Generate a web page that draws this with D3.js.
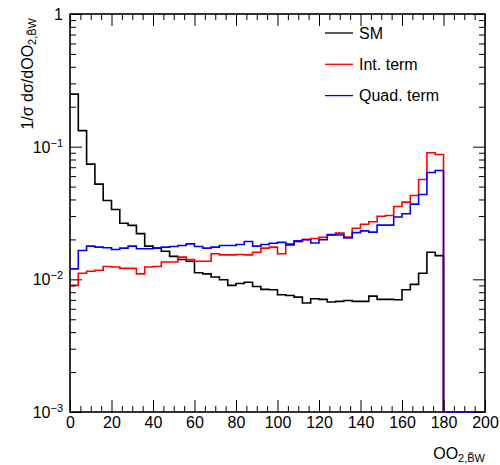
<!DOCTYPE html>
<html>
<head>
<meta charset="utf-8">
<script src="https://cdn.jsdelivr.net/npm/d3@7/dist/d3.min.js"></script>
<style>
    body { margin: 0; background: #fff; }
    svg text { font-family: "Liberation Sans", Arial, Helvetica, sans-serif; fill: #000; }
</style>
</head>
<body>
<div id="chart"></div>
<script>
// Normalised distributions, bins of width 4 from 0 to 200 (empty above 180)
var binWidth = 4;
var smValues = [
    0.249, 0.132, 0.0738, 0.0522, 0.0393, 0.0336, 0.0265, 0.0255, 0.0221, 0.0178,
    0.0172, 0.0163, 0.0149, 0.0141, 0.0137, 0.0112, 0.0110, 0.0104, 0.00993, 0.0090,
    0.0093, 0.0095, 0.00884, 0.0084, 0.00835, 0.00766, 0.00756, 0.00734, 0.00664, 0.00714,
    0.00706, 0.00674, 0.00682, 0.00693, 0.00682, 0.00682, 0.00747, 0.00706, 0.00706, 0.00702,
    0.00835, 0.00916, 0.0111, 0.0160, 0.0151,
    0, 0, 0, 0, 0
];
var intValues = [
    0.0090, 0.0111, 0.0115, 0.0117, 0.0125, 0.0124, 0.0121, 0.0121, 0.0110, 0.0124,
    0.0125, 0.0135, 0.0135, 0.0147, 0.0141, 0.0137, 0.0137, 0.0156, 0.0153, 0.0153,
    0.0154, 0.0153, 0.0160, 0.0172, 0.0175, 0.0156, 0.0185, 0.0192, 0.0200, 0.0203,
    0.0207, 0.0215, 0.0223, 0.0208, 0.0243, 0.0260, 0.0272, 0.0299, 0.0303, 0.0354,
    0.0382, 0.0429, 0.0566, 0.0900, 0.0873,
    0, 0, 0, 0, 0
];
var quadValues = [
    0.0120, 0.0165, 0.0178, 0.0175, 0.0173, 0.0168, 0.0172, 0.0178, 0.0170, 0.0170,
    0.0172, 0.0175, 0.0177, 0.0180, 0.0185, 0.0177, 0.0172, 0.0175, 0.0180, 0.0180,
    0.0183, 0.0193, 0.0178, 0.0183, 0.0187, 0.0190, 0.0182, 0.0195, 0.0199, 0.0188,
    0.0199, 0.0218, 0.0216, 0.0205, 0.0225, 0.0232, 0.0227, 0.0256, 0.0256, 0.0295,
    0.0312, 0.0369, 0.0436, 0.0639, 0.0662,
    0, 0, 0, 0, 0
];
var seriesNames = ["SM", "Int. term", "Quad. term"];
var seriesColors = ["#000000", "#ff0000", "#0000ff"];
var xMajorTicks = [0, 20, 40, 60, 80, 100, 120, 140, 160, 180, 200];
var yMajorTicks = [1e-3, 1e-2, 1e-1, 1];
var yTickExponents = ["\u22123", "\u22122", "\u22121", null];

var width = 500, height = 465;
var margin = {left: 70, top: 14, right: 15, bottom: 53};
var innerW = width - margin.left - margin.right;
var innerH = height - margin.top - margin.bottom;

var svg = d3.select("#chart").append("svg")
    .attr("width", width)
    .attr("height", height);

var g = svg.append("g")
    .attr("transform", "translate(" + margin.left + "," + margin.top + ")");

var x = d3.scaleLinear().domain([0, 200]).range([0, innerW]);
var y = d3.scaleLog().domain([1e-3, 1]).range([innerH, 0]);

//Frame goes first, the histograms are painted over it
g.append("rect")
    .attr("width", innerW)
    .attr("height", innerH)
    .attr("fill", "none")
    .attr("stroke", "#000")
    .attr("stroke-width", 1.6);

//ROOT draws empty bins on the frame floor in log scale
function yPos(v) {
    return v > 1e-3 ? y(v) : y(1e-3);
}

function stepPath(values) {
    var p = d3.path();
    p.moveTo(x(0), yPos(values[0]));
    values.forEach(function(v, i) {
        p.lineTo(x(i * binWidth), yPos(v));
        p.lineTo(x((i + 1) * binWidth), yPos(v));
    });
    return p.toString();
}

[smValues, intValues, quadValues].forEach(function(vals, i) {
    g.append("path")
        .attr("d", stepPath(vals))
        .attr("fill", "none")
        .attr("stroke", seriesColors[i])
        .attr("stroke-width", 1.6)
        .attr("stroke-linejoin", "miter");
});

//Minor tick values
var xMinor = d3.range(0, 201, 5).filter(function(v) { return v % 20 !== 0; });
var yMinor = [];
[1e-3, 1e-2, 1e-1].forEach(function(dec) {
    for (var k = 2; k <= 9; k++) yMinor.push(k * dec);
});

function styleAxis(sel) {
    sel.select(".domain").remove();
    sel.selectAll(".tick line").attr("stroke", "#000").attr("stroke-width", 1);
}

//Bottom + top axes (ticks point into the frame)
g.append("g").attr("transform", "translate(0," + innerH + ")")
    .call(d3.axisBottom(x).tickValues(xMajorTicks).tickSize(-12).tickPadding(5).tickFormat(d3.format("d")))
    .call(styleAxis)
    .selectAll("text").style("font-size", "16px");
g.append("g").attr("transform", "translate(0," + innerH + ")")
    .call(d3.axisBottom(x).tickValues(xMinor).tickSize(-6).tickFormat(""))
    .call(styleAxis);
g.append("g")
    .call(d3.axisTop(x).tickValues(xMajorTicks).tickSize(-12).tickFormat(""))
    .call(styleAxis);
g.append("g")
    .call(d3.axisTop(x).tickValues(xMinor).tickSize(-6).tickFormat(""))
    .call(styleAxis);

//Left + right axes
var yAxisG = g.append("g")
    .call(d3.axisLeft(y).tickValues(yMajorTicks).tickSize(-12).tickPadding(7).tickFormat(""))
    .call(styleAxis);
yAxisG.selectAll(".tick text").each(function(d, i) {
    var t = d3.select(this)
        .attr("dy", "0.35em")
        .style("font-size", "16px");
    if (yTickExponents[i] === null) {
        t.text("1");
    } else {
        t.append("tspan").text("10");
        t.append("tspan")
            .attr("dy", "-0.55em")
            .style("font-size", "11px")
            .text(yTickExponents[i]);
    }
});
g.append("g")
    .call(d3.axisLeft(y).tickValues(yMinor).tickSize(-6).tickFormat(""))
    .call(styleAxis);
g.append("g").attr("transform", "translate(" + innerW + ",0)")
    .call(d3.axisRight(y).tickValues(yMajorTicks).tickSize(-12).tickFormat(""))
    .call(styleAxis);
g.append("g").attr("transform", "translate(" + innerW + ",0)")
    .call(d3.axisRight(y).tickValues(yMinor).tickSize(-6).tickFormat(""))
    .call(styleAxis);

//Axis titles
var xTitle = svg.append("text")
    .attr("x", margin.left + innerW)
    .attr("y", 459)
    .attr("text-anchor", "end")
    .style("font-size", "16px");
xTitle.append("tspan").text("OO");
xTitle.append("tspan").attr("dy", "0.3em").style("font-size", "11px").text("2,B\u0303W");

var yTitle = svg.append("text")
    .attr("transform", "translate(33," + (margin.top + 4) + ") rotate(-90)")
    .attr("text-anchor", "end")
    .style("font-size", "16px");
yTitle.append("tspan").text("1/\u03c3 d\u03c3/dOO");
yTitle.append("tspan").attr("dy", "0.3em").style("font-size", "11px").text("2,B\u0303W");

//Legend
var legend = svg.append("g").attr("transform", "translate(325,33)");
seriesNames.forEach(function(name, i) {
    var row = legend.append("g").attr("transform", "translate(0," + (i * 31.3) + ")");
    row.append("line")
        .attr("x1", 0).attr("x2", 28)
        .attr("stroke", seriesColors[i])
        .attr("stroke-width", 1.3);
    row.append("text")
        .attr("x", 34)
        .attr("dy", "0.36em")
        .style("font-size", "16px")
        .text(name);
});
</script>
</body>
</html>
